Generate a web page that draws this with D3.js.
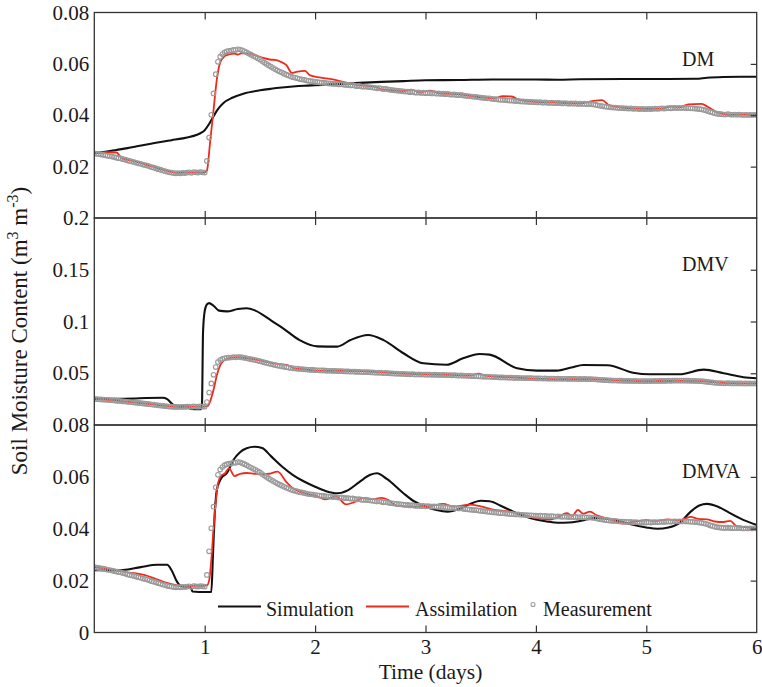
<!DOCTYPE html>
<html>
<head>
<meta charset="utf-8">
<script src="https://cdn.jsdelivr.net/npm/d3@7"></script>
<style>
  body { margin: 0; background: #fff; }
  svg { display: block; }
  text { font-family: "Liberation Serif", "Times New Roman", serif; fill: #1a1a1a; }
</style>
</head>
<body>
<svg id="chart" width="762" height="687"></svg>
<script>
// ---- data -------------------------------------------------------------
const dayTicks = [1, 2, 3, 4, 5, 6];
const innerDayTicks = [1, 2, 3, 4, 5];
const panelNames = ["DM", "DMV", "DMVA"];

const yMaxDM = 0.08, yMaxDMV = 0.2, yMaxDMVA = 0.08;
const yTicksDM = [0.02, 0.04, 0.06, 0.08];
const yLabelsDM = ["0.02", "0.04", "0.06", "0.08"];
const yTicksDMV = [0.05, 0.1, 0.15, 0.2];
const yLabelsDMV = ["0.05", "0.1", "0.15", "0.2"];
const yTicksDMVA = [0, 0.02, 0.04, 0.06, 0.08];
const yLabelsDMVA = ["0", "0.02", "0.04", "0.06", "0.08"];

// measured soil moisture, one reading every 0.02 day from t = 0 to t = 6
const measStep = 0.02;
const measurement = [
  0.0252,0.0250,0.0249,0.0247,0.0246,0.0244,0.0242,0.0241,0.0239,0.0237,
  0.0235,0.0233,0.0232,0.0229,0.0227,0.0224,0.0222,0.0220,0.0218,0.0215,
  0.0213,0.0211,0.0208,0.0206,0.0204,0.0201,0.0198,0.0196,0.0193,0.0190,
  0.0188,0.0185,0.0183,0.0180,0.0178,0.0177,0.0175,0.0174,0.0175,0.0174,
  0.0176,0.0175,0.0177,0.0178,0.0176,0.0179,0.0178,0.0177,0.0179,0.0178,
  0.0177,0.0222,0.0313,0.0402,0.0485,0.0560,0.0608,0.0628,0.0638,0.0645,
  0.0649,0.0651,0.0652,0.0655,0.0654,0.0657,0.0656,0.0653,0.0649,0.0645,
  0.0640,0.0636,0.0631,0.0627,0.0622,0.0617,0.0611,0.0605,0.0600,0.0594,
  0.0589,0.0584,0.0579,0.0574,0.0570,0.0566,0.0562,0.0558,0.0555,0.0551,
  0.0548,0.0546,0.0544,0.0541,0.0540,0.0538,0.0536,0.0534,0.0533,0.0532,
  0.0530,0.0529,0.0528,0.0527,0.0527,0.0525,0.0524,0.0524,0.0522,0.0523,
  0.0521,0.0520,0.0521,0.0519,0.0518,0.0518,0.0516,0.0517,0.0515,0.0513,
  0.0514,0.0512,0.0511,0.0512,0.0510,0.0509,0.0508,0.0507,0.0505,0.0506,
  0.0504,0.0502,0.0503,0.0501,0.0499,0.0498,0.0497,0.0496,0.0495,0.0494,
  0.0493,0.0492,0.0492,0.0490,0.0491,0.0489,0.0488,0.0489,0.0487,0.0488,
  0.0486,0.0487,0.0486,0.0485,0.0486,0.0484,0.0485,0.0483,0.0484,0.0482,
  0.0483,0.0481,0.0480,0.0481,0.0479,0.0478,0.0479,0.0477,0.0476,0.0475,
  0.0474,0.0473,0.0472,0.0472,0.0470,0.0469,0.0468,0.0467,0.0466,0.0466,
  0.0464,0.0463,0.0463,0.0461,0.0460,0.0460,0.0459,0.0458,0.0457,0.0457,
  0.0456,0.0455,0.0456,0.0454,0.0454,0.0453,0.0453,0.0452,0.0452,0.0451,
  0.0451,0.0450,0.0451,0.0449,0.0450,0.0449,0.0448,0.0449,0.0448,0.0447,
  0.0448,0.0447,0.0446,0.0447,0.0446,0.0445,0.0446,0.0445,0.0446,0.0444,
  0.0445,0.0444,0.0445,0.0443,0.0444,0.0443,0.0442,0.0441,0.0439,0.0437,
  0.0436,0.0434,0.0433,0.0432,0.0431,0.0430,0.0430,0.0429,0.0428,0.0428,
  0.0427,0.0427,0.0426,0.0427,0.0425,0.0426,0.0425,0.0424,0.0425,0.0424,
  0.0424,0.0425,0.0424,0.0425,0.0426,0.0425,0.0426,0.0427,0.0426,0.0427,
  0.0428,0.0427,0.0428,0.0429,0.0428,0.0429,0.0428,0.0429,0.0428,0.0428,
  0.0427,0.0427,0.0426,0.0425,0.0424,0.0423,0.0421,0.0419,0.0416,0.0413,
  0.0411,0.0408,0.0406,0.0405,0.0404,0.0403,0.0403,0.0404,0.0403,0.0402,
  0.0403,0.0402,0.0403,0.0402,0.0401,0.0402,0.0401,0.0402,0.0401,0.0402,
  0.0401
];

// model runs, [time (days), soil moisture]
const simDM = [
  [0,0.0252],[0.1,0.0258],[0.2,0.0265],[0.3,0.0272],[0.4,0.0280],[0.5,0.0288],
  [0.6,0.0296],[0.7,0.0303],[0.8,0.0310],[0.86,0.0315],[0.93,0.0324],[0.97,0.0332],
  [1.0,0.0342],[1.04,0.0366],[1.08,0.0396],[1.12,0.0424],[1.17,0.0448],[1.25,0.0468],
  [1.35,0.0484],[1.5,0.0497],[1.6,0.0503],[1.7,0.0508],[1.8,0.0512],[1.9,0.0515],
  [2.0,0.0517],[2.2,0.0521],[2.4,0.0526],[2.6,0.0530],[2.8,0.0533],[3.0,0.0536],
  [3.3,0.0537],[3.6,0.0539],[4.0,0.0539],[4.2,0.0538],[4.4,0.0540],[4.8,0.0541],
  [5.2,0.0541],[5.45,0.0542],[5.55,0.0546],[5.7,0.0549],[5.85,0.0550],[6.0,0.0550]
];
const assimDM = [
  [0,0.0252],[0.1,0.0256],[0.2,0.0255],[0.25,0.0233],[0.35,0.0222],[0.45,0.0210],
  [0.55,0.0197],[0.65,0.0184],[0.75,0.0176],[0.85,0.0178],[0.95,0.0178],[1.0,0.0178],
  [1.02,0.0185],[1.05,0.0300],[1.08,0.0420],[1.11,0.0540],[1.14,0.0605],[1.18,0.0630],
  [1.22,0.0637],[1.27,0.0640],[1.30,0.0636],[1.33,0.0641],[1.38,0.0641],[1.45,0.0634],
  [1.52,0.0624],[1.59,0.0617],[1.65,0.0615],[1.69,0.0608],[1.74,0.0595],[1.79,0.0565],
  [1.83,0.0569],[1.91,0.0573],[1.95,0.0556],[2.04,0.0547],[2.16,0.0540],[2.25,0.0530],
  [2.35,0.0520],[2.45,0.0515],[2.56,0.0509],[2.6,0.0501],[2.7,0.0498],[2.8,0.0494],
  [2.87,0.0500],[2.95,0.0489],[3.04,0.0496],[3.12,0.0486],[3.3,0.0481],[3.5,0.0470],
  [3.62,0.0466],[3.7,0.0474],[3.78,0.0473],[3.85,0.0460],[4.0,0.0452],[4.2,0.0449],
  [4.4,0.0446],[4.52,0.0456],[4.6,0.0459],[4.66,0.0440],[4.8,0.0429],[5.0,0.0425],
  [5.15,0.0427],[5.22,0.0434],[5.3,0.0431],[5.38,0.0442],[5.5,0.0444],[5.56,0.0432],
  [5.65,0.0410],[5.75,0.0402],[5.9,0.0403],[6.0,0.0401]
];

const simDMV = [
  [0,0.0252],[0.2,0.0253],[0.35,0.0255],[0.47,0.0261],[0.62,0.0263],[0.66,0.0250],
  [0.71,0.0200],[0.75,0.0185],[0.85,0.0180],[0.87,0.0155],[0.96,0.0152],[0.975,0.0180],
  [0.985,0.0900],[1.0,0.1100],[1.02,0.1165],[1.04,0.1178],[1.08,0.1152],[1.13,0.1105],
  [1.2,0.1098],[1.3,0.1120],[1.38,0.1128],[1.45,0.1110],[1.53,0.1062],[1.6,0.1010],
  [1.71,0.0934],[1.86,0.0820],[2.02,0.0760],[2.2,0.0757],[2.32,0.0821],[2.48,0.0870],
  [2.62,0.0820],[2.8,0.0693],[2.98,0.0596],[3.19,0.0582],[3.34,0.0644],[3.49,0.0686],
  [3.58,0.0680],[3.83,0.0548],[4.01,0.0525],[4.19,0.0525],[4.32,0.0555],[4.43,0.0580],
  [4.65,0.0578],[4.88,0.0505],[5.03,0.0490],[5.3,0.0490],[5.52,0.0535],[5.7,0.0500],
  [5.88,0.0462],[6.0,0.0452]
];
const assimDMV = [
  [0,0.0252],[0.2,0.0236],[0.4,0.0214],[0.6,0.0190],[0.75,0.0175],[0.9,0.0177],
  [1.0,0.0178],[1.03,0.0185],[1.05,0.0230],[1.08,0.0340],[1.11,0.0480],[1.14,0.0575],
  [1.17,0.0620],[1.22,0.0645],[1.3,0.0655],[1.4,0.0642],[1.5,0.0625],[1.6,0.0600],
  [1.7,0.0585],[1.76,0.0575],[1.82,0.0545],[1.9,0.0540],[2.0,0.0525],[2.2,0.0523],
  [2.4,0.0520],[2.6,0.0508],[2.8,0.0497],[3.0,0.0490],[3.2,0.0485],[3.4,0.0478],
  [3.48,0.0496],[3.55,0.0475],[3.8,0.0460],[4.0,0.0448],[4.3,0.0442],[4.5,0.0444],
  [4.7,0.0432],[5.0,0.0424],[5.3,0.0426],[5.5,0.0424],[5.6,0.0414],[5.75,0.0404],
  [6.0,0.0401]
];

const simDMVA = [
  [0,0.0240],[0.15,0.0240],[0.26,0.0241],[0.42,0.0252],[0.57,0.0261],[0.66,0.0261],
  [0.7,0.0240],[0.75,0.0195],[0.79,0.0178],[0.87,0.0176],[0.89,0.0158],[1.0,0.0156],
  [1.06,0.0156],[1.075,0.0300],[1.09,0.0450],[1.11,0.0550],[1.15,0.0595],[1.2,0.0614],
  [1.26,0.0665],[1.32,0.0695],[1.38,0.0710],[1.45,0.0716],[1.52,0.0711],[1.6,0.0680],
  [1.7,0.0640],[1.8,0.0607],[1.9,0.0582],[2.0,0.0562],[2.1,0.0545],[2.2,0.0537],
  [2.3,0.0549],[2.4,0.0580],[2.5,0.0608],[2.56,0.0614],[2.65,0.0592],[2.8,0.0537],
  [2.9,0.0505],[3.0,0.0485],[3.1,0.0472],[3.2,0.0466],[3.3,0.0475],[3.4,0.0495],
  [3.5,0.0508],[3.58,0.0506],[3.7,0.0485],[3.8,0.0465],[3.9,0.0448],[4.0,0.0436],
  [4.1,0.0428],[4.2,0.0423],[4.3,0.0424],[4.4,0.0430],[4.55,0.0442],[4.7,0.0436],
  [4.85,0.0418],[5.0,0.0405],[5.1,0.0400],[5.2,0.0405],[5.3,0.0422],[5.4,0.0465],
  [5.48,0.0490],[5.55,0.0496],[5.65,0.0485],[5.75,0.0462],[5.85,0.0440],[6.0,0.0414]
];
const assimDMVA = [
  [0,0.0252],[0.1,0.0246],[0.2,0.0240],[0.3,0.0232],[0.38,0.0228],[0.45,0.0222],
  [0.55,0.0208],[0.65,0.0192],[0.75,0.0182],[0.85,0.0180],[0.95,0.0180],[1.02,0.0182],
  [1.04,0.0200],[1.06,0.0280],[1.08,0.0400],[1.1,0.0500],[1.12,0.0575],[1.15,0.0605],
  [1.18,0.0612],[1.22,0.0633],[1.27,0.0603],[1.32,0.0612],[1.38,0.0615],[1.45,0.0612],
  [1.52,0.0610],[1.58,0.0612],[1.66,0.0620],[1.74,0.0580],[1.8,0.0556],[1.86,0.0543],
  [1.95,0.0532],[2.02,0.0525],[2.09,0.0513],[2.19,0.0525],[2.28,0.0494],[2.35,0.0502],
  [2.43,0.0518],[2.52,0.0514],[2.6,0.0519],[2.66,0.0512],[2.74,0.0488],[2.92,0.0485],
  [3.05,0.0488],[3.16,0.0496],[3.26,0.0485],[3.4,0.0493],[3.5,0.0486],[3.6,0.0475],
  [3.77,0.0465],[3.9,0.0452],[3.98,0.0443],[4.13,0.0435],[4.2,0.0445],[4.28,0.0460],
  [4.33,0.0450],[4.38,0.0473],[4.43,0.0458],[4.49,0.0466],[4.55,0.0452],[4.6,0.0445],
  [4.7,0.0432],[4.79,0.0420],[4.9,0.0428],[5.0,0.0433],[5.1,0.0430],[5.19,0.0436],
  [5.3,0.0432],[5.4,0.0446],[5.47,0.0438],[5.55,0.0436],[5.62,0.0428],[5.7,0.0426],
  [5.76,0.0430],[5.82,0.0410],[5.9,0.0406],[6.0,0.0402]
];

// ---- layout -----------------------------------------------------------
const panels = [
  { name: panelNames[0], yMax: yMaxDM,   ticks: yTicksDM,   labels: yLabelsDM,   sim: simDM,   assim: assimDM,   top: 12.5, bottom: 218 },
  { name: panelNames[1], yMax: yMaxDMV,  ticks: yTicksDMV,  labels: yLabelsDMV,  sim: simDMV,  assim: assimDMV,  top: 218,  bottom: 425 },
  { name: panelNames[2], yMax: yMaxDMVA, ticks: yTicksDMVA, labels: yLabelsDMVA, sim: simDMVA, assim: assimDMVA, top: 425,  bottom: 632.5 }
];

const plotLeft = 94.3, plotRight = 756.7;
const serif = '"Liberation Serif", "Times New Roman", serif';
const simColor = "#111111", assimColor = "#ef2b1c", measColor = "#9a9a9a", frameColor = "#333333";

const svg = d3.select("#chart");
const x = d3.scaleLinear().domain([0, 6]).range([plotLeft, plotRight]);
const measPoints = measurement.map((v, i) => [i * measStep, v]);

function styleAxis(g, size) {
  g.attr("font-family", serif).attr("font-size", size);
  g.select(".domain").remove();
  g.selectAll(".tick line").attr("stroke", frameColor).attr("stroke-width", 1.2);
  g.selectAll(".tick text").attr("fill", "#1a1a1a");
}

panels.forEach((p, idx) => {
  const y = d3.scaleLinear().domain([0, p.yMax]).range([p.bottom, p.top]);
  const clipId = "clip" + idx;
  svg.append("clipPath").attr("id", clipId)
    .append("rect")
    .attr("x", plotLeft).attr("y", p.top)
    .attr("width", plotRight - plotLeft).attr("height", p.bottom - p.top);

  const g = svg.append("g").attr("clip-path", `url(#${clipId})`);
  const line = d3.line().x(d => x(d[0])).y(d => y(d[1])).curve(d3.curveMonotoneX);

  g.append("path").datum(p.sim)
    .attr("d", line).attr("fill", "none")
    .attr("stroke", simColor).attr("stroke-width", 2.1).attr("stroke-linejoin", "round");

  g.append("path").datum(p.assim)
    .attr("d", line).attr("fill", "none")
    .attr("stroke", assimColor).attr("stroke-width", 1.8).attr("stroke-linejoin", "round");

  g.append("g").selectAll("circle").data(measPoints).join("circle")
    .attr("cx", d => x(d[0])).attr("cy", d => y(d[1])).attr("r", 2.3)
    .attr("fill", "none").attr("stroke", measColor).attr("stroke-width", 1.1);

  // frame
  svg.append("rect")
    .attr("x", plotLeft).attr("y", p.top)
    .attr("width", plotRight - plotLeft).attr("height", p.bottom - p.top)
    .attr("fill", "none").attr("stroke", frameColor).attr("stroke-width", 1.3);

  // inward ticks on top, bottom and right edges
  svg.append("g").attr("transform", `translate(0,${p.top})`)
    .call(d3.axisTop(x).tickValues(innerDayTicks).tickSizeInner(-7).tickSizeOuter(0).tickFormat(""))
    .call(g => styleAxis(g, 21));

  const isLast = idx === panels.length - 1;
  svg.append("g").attr("transform", `translate(0,${p.bottom})`)
    .call(d3.axisBottom(x).tickValues(isLast ? dayTicks : innerDayTicks)
      .tickSizeInner(-7).tickSizeOuter(0).tickPadding(7)
      .tickFormat(isLast ? d3.format("d") : ""))
    .call(g => styleAxis(g, 21))
    .call(g => g.selectAll(".tick").filter(d => d === 6).select("line").remove());

  svg.append("g").attr("transform", `translate(${plotRight},0)`)
    .call(d3.axisRight(y).tickValues(p.ticks.filter(t => t > 0 && t < p.yMax))
      .tickSizeInner(-6).tickSizeOuter(0).tickFormat(""))
    .call(g => styleAxis(g, 21));

  // tick labels on the left
  svg.append("g").attr("transform", `translate(${plotLeft},0)`)
    .call(d3.axisLeft(y).tickValues(p.ticks).tickSize(0).tickPadding(5)
      .tickFormat((d, i) => p.labels[i]))
    .call(g => styleAxis(g, 21));

  // panel name
  svg.append("text")
    .attr("x", 682).attr("y", y(p.yMax) + 53)
    .attr("font-size", 20).text(p.name);
});

// ---- legend (bottom panel) ---------------------------------------------
const legendY = 606.5;
const legend = svg.append("g").attr("font-size", 20);
legend.append("line").attr("x1", 218).attr("x2", 261).attr("y1", legendY).attr("y2", legendY)
  .attr("stroke", simColor).attr("stroke-width", 2.1);
legend.append("text").attr("x", 266).attr("y", legendY + 9.5).text("Simulation");
legend.append("line").attr("x1", 366).attr("x2", 409).attr("y1", legendY).attr("y2", legendY)
  .attr("stroke", assimColor).attr("stroke-width", 1.8);
legend.append("text").attr("x", 415).attr("y", legendY + 9.5).text("Assimilation");
legend.append("circle").attr("cx", 533).attr("cy", legendY - 2).attr("r", 2)
  .attr("fill", "none").attr("stroke", measColor).attr("stroke-width", 1.1);
legend.append("text").attr("x", 543).attr("y", legendY + 9.5).text("Measurement");

// ---- axis titles --------------------------------------------------------
svg.append("text")
  .attr("x", (plotLeft + plotRight) / 2 + 5).attr("y", 678.5)
  .attr("text-anchor", "middle").attr("font-size", 21.5)
  .text("Time (days)");

const yTitle = svg.append("text")
  .attr("transform", "translate(27,331) rotate(-90)")
  .attr("text-anchor", "middle").attr("font-size", 23);
yTitle.append("tspan").text("Soil Moisture Content (m");
yTitle.append("tspan").attr("font-size", 16).attr("dy", -9).text("3");
yTitle.append("tspan").attr("dy", 9).text(" m");
yTitle.append("tspan").attr("font-size", 16).attr("dy", -9).text("-3");
yTitle.append("tspan").attr("dy", 9).text(")");
</script>
</body>
</html>
